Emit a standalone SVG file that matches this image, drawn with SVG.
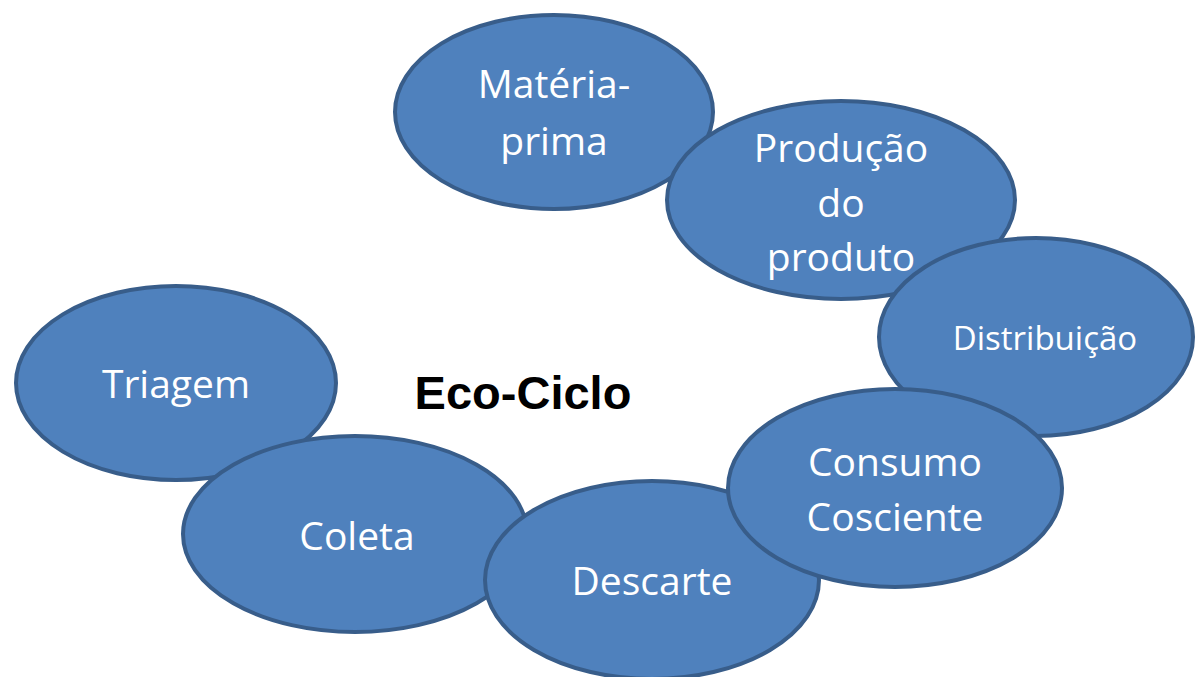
<svg xmlns="http://www.w3.org/2000/svg" width="1195" height="677" viewBox="0 0 1195 677">
<style>
.n{fill:#4F81BD;stroke:#385D8A;stroke-width:4}
.t{fill:#fff;font-family:"Open Sans","Liberation Sans",sans-serif;font-size:39px;text-anchor:middle}
.s{font-size:33px}
.title{fill:#000;font-family:"Liberation Sans",sans-serif;font-weight:bold;font-size:47px;text-anchor:middle}
</style>
<rect width="1195" height="677" fill="#fff"/>
<g id="connectors"></g>
<g id="triagem"><ellipse class="n" cx="176" cy="383" rx="160" ry="97"/><text class="t" x="176" y="398">Triagem</text></g>
<g id="coleta"><ellipse class="n" cx="355" cy="534" rx="172" ry="98"/><text class="t" x="357" y="550">Coleta</text></g>
<g id="descarte"><ellipse class="n" cx="652" cy="580" rx="167" ry="99"/><text class="t" x="652" y="595">Descarte</text></g>
<g id="materia"><ellipse class="n" cx="554" cy="112" rx="159" ry="97"/><text class="t" x="554" y="98">Matéria-</text><text class="t" x="554" y="155">prima</text></g>
<g id="producao"><ellipse class="n" cx="841" cy="200" rx="174" ry="99"/><text class="t" x="841" y="162">Produção</text><text class="t" x="841" y="217">do</text><text class="t" x="841" y="271">produto</text></g>
<g id="distribuicao"><ellipse class="n" cx="1036" cy="337" rx="157" ry="99"/><text class="t s" x="1045" y="350">Distribuição</text></g>
<g id="consumo"><ellipse class="n" cx="895" cy="488" rx="167" ry="99"/><text class="t" x="895" y="476">Consumo</text><text class="t" x="895" y="531">Cosciente</text></g>
<text class="title" x="523" y="409">Eco-Ciclo</text>
</svg>
